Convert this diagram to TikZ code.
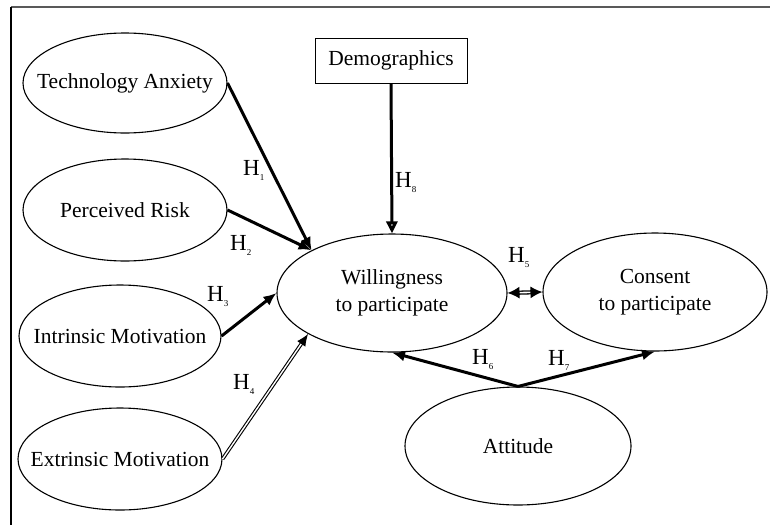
\documentclass[tikz,border=0pt]{standalone}
\usepackage{fontspec}
\setmainfont{Liberation Serif}
\usetikzlibrary{shapes.geometric,arrows.meta}

% hypothesis label: H with a small lowered index
\newcommand{\Hlbl}[1]{H\raisebox{-5pt}{\fontsize{9}{9}\selectfont #1}}

\begin{document}
\begin{tikzpicture}[x=1pt,y=-1pt,
  oval/.style={ellipse, draw, line width=1.1pt, inner xsep=-30pt, inner ysep=-4pt,
               align=center, font=\fontsize{21.5}{27}\selectfont},
  box/.style={rectangle, draw, line width=1pt, inner sep=0pt,
              font=\fontsize{21.5}{25}\selectfont},
  hyp/.style={anchor=west, inner sep=0pt, font=\fontsize{23}{25}\selectfont},
  path/.style={line width=3pt, -{Latex[length=13pt,width=11pt]}},
  twin/.style={double, double distance=1.4pt, line width=1.1pt,
               -{Latex[length=12pt,width=10pt]}},
  twinboth/.style={double, double distance=1.6pt, line width=1.3pt,
               {Latex[length=12pt,width=12pt]}-{Latex[length=12pt,width=12pt]}},
  openpath/.style={line width=3pt, -{Triangle[open,length=12pt,width=11pt]}}]

\useasboundingbox (0,0) rectangle (770,525);

% frame edges
\coordinate (fTR) at (770,7);
\coordinate (fTL) at (11,7);
\coordinate (fBL) at (11,525);
\draw[black!65, line width=2pt] (fTR) -- (fTL);
\draw[black, line width=1.3pt] (fTL) -- (fBL);

% antecedents
\node[oval, minimum width=204pt, minimum height=100pt] (ta) at (125,83) {Technology Anxiety};
\node[oval, minimum width=204pt, minimum height=102pt] (pr) at (125,210) {Perceived Risk};
\node[oval, minimum width=202pt, minimum height=102pt] (im) at (120,336) {Intrinsic Motivation};
\node[oval, minimum width=204pt, minimum height=102pt] (em) at (120,459) {Extrinsic Motivation};

\node[box, minimum width=152pt, minimum height=45pt] (demo) at (391,60.5) {Demographics};

% outcomes
\node[oval, minimum width=230pt, minimum height=118pt] (will) at (392,293) {Willingness\\to participate};
\node[oval, minimum width=224pt, minimum height=118pt] (con) at (655,292) {Consent\\to participate};
\node[oval, minimum width=226pt, minimum height=118pt] (att) at (518,446) {Attitude};

% hypothesised paths
\draw[path] (ta.east) -- (will.152.7);
\draw[path] (pr.east) -- (will.152.7);
\draw[path] (im.east) -- (will.west);
\draw[twin] (em.east) -- (will.206);
\draw[openpath] (demo.south) -- (will.north);
\draw[twinboth] (will.east) -- (con.west);
\draw[path] (att.north) -- (will.south);
\draw[path] (att.north) -- (con.south);

% hypothesis labels
\node[hyp] (h1) at (243,170) {\Hlbl{1}};
\node[hyp] (h2) at (230,245) {\Hlbl{2}};
\node[hyp] (h3) at (207,297) {\Hlbl{3}};
\node[hyp] (h4) at (233,384) {\Hlbl{4}};
\node[hyp] (h5) at (508,258) {\Hlbl{5}};
\node[hyp] (h6) at (472,360) {\Hlbl{6}};
\node[hyp] (h7) at (548,360) {\Hlbl{7}};
\node[hyp] (h8) at (395,183) {\Hlbl{8}};
\end{tikzpicture}
\end{document}
